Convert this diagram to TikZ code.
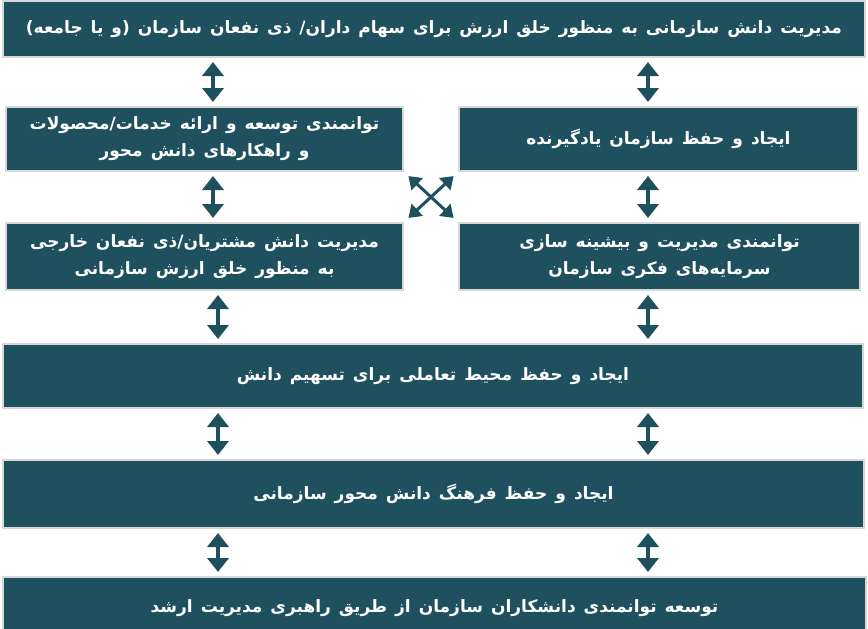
\documentclass[tikz,border=0pt]{standalone}
\usepackage{fontspec}
\usepackage{xcolor}
\usepackage{tikz}
\usetikzlibrary{arrows.meta}
\TeXXeTstate=1
\newfontfamily\farsifont[Script=Arabic,WordSpace=1.35]{DejaVu Sans}
\newcommand{\fatext}[1]{\beginR #1\endR}
\definecolor{kmteal}{RGB}{30,80,94}
\definecolor{kmframe}{RGB}{214,216,216}
\tikzset{
  kmbox/.style={draw=kmframe, line width=2pt, fill=kmteal, text=white, align=center,
    font=\farsifont\bfseries\fontsize{17}{27}\selectfont, inner sep=0pt},
  kmarrow/.style={{Triangle[width=21pt,length=14pt]}-{Triangle[width=21pt,length=14pt]},
    line width=3.5pt, draw=kmteal, shorten <=4pt, shorten >=4pt},
  kmcross/.style={{Triangle[width=16pt,length=12pt]}-{Triangle[width=16pt,length=12pt]},
    line width=3pt, draw=kmteal, shorten <=6pt, shorten >=6pt}
}

\begin{document}
\begin{tikzpicture}[x=1pt,y=-1pt]
        \useasboundingbox (0,0) rectangle (868,629);
        \clip (0,0) rectangle (868,629);

        \node[kmbox, minimum width=862pt, minimum height=56pt] (ksm) at (434,29)
            {\fatext{مدیریت دانش سازمانی به منظور خلق ارزش برای سهام داران/ ذی نفعان سازمان (و یا جامعه)}};
        \node[kmbox, minimum width=397pt, minimum height=64pt] (tos) at (204.5,139)
            {\fatext{توانمندی توسعه و ارائه خدمات/محصولات}\\\fatext{و راهکارهای دانش محور}};
        \node[kmbox, minimum width=399pt, minimum height=64pt] (yad) at (658.5,139)
            {\fatext{ایجاد و حفظ سازمان یادگیرنده}};
        \node[kmbox, minimum width=397pt, minimum height=67pt] (mos) at (204.5,256.5)
            {\fatext{مدیریت دانش مشتریان/ذی نفعان خارجی}\\\fatext{به منظور خلق ارزش سازمانی}};
        \node[kmbox, minimum width=401pt, minimum height=67pt] (sar) at (659.5,256.5)
            {\fatext{توانمندی مدیریت و بیشینه سازی}\\\fatext{سرمایه‌های فکری سازمان}};
        \node[kmbox, minimum width=860pt, minimum height=64pt] (tam) at (433,376)
            {\fatext{ایجاد و حفظ محیط تعاملی برای تسهیم دانش}};
        \node[kmbox, minimum width=861pt, minimum height=68pt] (far) at (433.5,494)
            {\fatext{ایجاد و حفظ فرهنگ دانش محور سازمانی}};
        \node[kmbox, minimum width=863pt, minimum height=62pt] (rah) at (434.5,608)
            {\fatext{توسعه توانمندی دانشکاران سازمان از طریق راهبری مدیریت ارشد}};

        \coordinate (la) at (213,0);
        \coordinate (lb) at (218,0);
        \coordinate (ra) at (648,0);

        \draw[kmarrow] (ksm.south -| la) -- (tos.north -| la);
        \draw[kmarrow] (ksm.south -| ra) -- (yad.north -| ra);
        \draw[kmarrow] (tos.south -| la) -- (mos.north -| la);
        \draw[kmarrow] (yad.south -| ra) -- (sar.north -| ra);
        \draw[kmarrow] (mos.south -| lb) -- (tam.north -| lb);
        \draw[kmarrow] (sar.south -| ra) -- (tam.north -| ra);
        \draw[kmarrow] (tam.south -| lb) -- (far.north -| lb);
        \draw[kmarrow] (tam.south -| ra) -- (far.north -| ra);
        \draw[kmarrow] (far.south -| lb) -- (rah.north -| lb);
        \draw[kmarrow] (far.south -| ra) -- (rah.north -| ra);

        \draw[kmcross] (tos.south east) -- (sar.north west);
        \draw[kmcross] (yad.south west) -- (mos.north east);
\end{tikzpicture}
\end{document}
